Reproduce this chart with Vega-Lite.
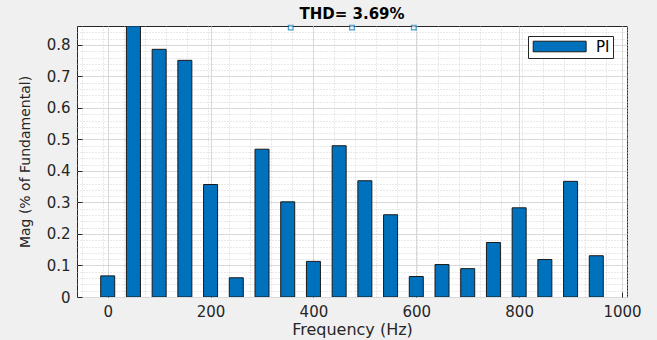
{
  "$schema": "https://vega.github.io/schema/vega-lite/v6.json",
  "width": 550,
  "height": 271,
  "autosize": {"type": "none"},
  "padding": {"left": 77, "top": 26, "right": 30, "bottom": 43},
  "background": "#f0f0f0",
  "config": {
    "view": {"stroke": "#262626", "strokeWidth": 1, "fill": "white"},
    "font": "DejaVu Sans",
    "axis": {"labelFont": "DejaVu Sans", "titleFont": "DejaVu Sans", "labelColor": "#262626", "titleColor": "#262626", "labelFontSize": 15, "titleFontSize": 14, "titleFontWeight": "normal", "domain": false}
  },
  "title": {"text": "THD= 3.69%", "fontSize": 15, "fontWeight": "bold", "color": "#000000", "anchor": "middle", "offset": 1, "font": "DejaVu Sans"},
  "datasets": {
    "harm": [
      {"f": 0, "mag": 0.067, "series": "PI"},
      {"f": 50, "mag": 100, "series": "PI"},
      {"f": 100, "mag": 0.786, "series": "PI"},
      {"f": 150, "mag": 0.751, "series": "PI"},
      {"f": 200, "mag": 0.357, "series": "PI"},
      {"f": 250, "mag": 0.061, "series": "PI"},
      {"f": 300, "mag": 0.469, "series": "PI"},
      {"f": 350, "mag": 0.302, "series": "PI"},
      {"f": 400, "mag": 0.113, "series": "PI"},
      {"f": 450, "mag": 0.48, "series": "PI"},
      {"f": 500, "mag": 0.369, "series": "PI"},
      {"f": 550, "mag": 0.261, "series": "PI"},
      {"f": 600, "mag": 0.065, "series": "PI"},
      {"f": 650, "mag": 0.103, "series": "PI"},
      {"f": 700, "mag": 0.09, "series": "PI"},
      {"f": 750, "mag": 0.173, "series": "PI"},
      {"f": 800, "mag": 0.283, "series": "PI"},
      {"f": 850, "mag": 0.119, "series": "PI"},
      {"f": 900, "mag": 0.367, "series": "PI"},
      {"f": 950, "mag": 0.131, "series": "PI"}
    ],
    "marks": [
      {"f": 358, "mag": 0.855},
      {"f": 475, "mag": 0.855},
      {"f": 593, "mag": 0.855}
    ]
  },
  "layer": [
    {
      "data": {"name": "harm"},
      "mark": {"type": "point", "opacity": 0},
      "encoding": {
        "x": {"field": "f", "type": "quantitative", "scale": {"domain": [-50, 1000], "nice": false, "zero": false},
          "axis": {"orient": "top", "labels": false, "title": null, "grid": true, "gridDash": [1, 2], "gridColor": "#c8c8c8", "gridOpacity": 0.8,
            "values": [-40, 0, 40, 80, 120, 160, 200, 240, 280, 320, 360, 400, 440, 480, 520, 560, 600, 640, 680, 720, 760, 800, 840, 880, 920, 960, 1000], "ticks": false, "maxExtent": 0, "minExtent": 0}},
        "y": {"field": "mag", "type": "quantitative", "scale": {"domain": [0, 0.86], "nice": false, "clamp": true},
          "axis": {"orient": "right", "labels": false, "title": null, "grid": true, "gridDash": [1, 2], "gridColor": "#c8c8c8", "gridOpacity": 0.8,
            "values": [0.02, 0.04, 0.06, 0.08, 0.12, 0.14, 0.16, 0.18, 0.22, 0.24, 0.26, 0.28, 0.32, 0.34, 0.36, 0.38, 0.42, 0.44, 0.46, 0.48, 0.52, 0.54, 0.56, 0.58, 0.62, 0.64, 0.66, 0.68, 0.72, 0.74, 0.76, 0.78, 0.82, 0.84], "ticks": false, "maxExtent": 0, "minExtent": 0}}
      }
    },
    {
      "data": {"name": "harm"},
      "mark": {"type": "bar", "width": 14, "stroke": "#1a1a1a", "strokeWidth": 1, "clip": true},
      "encoding": {
        "x": {"field": "f", "type": "quantitative", "scale": {"domain": [-50, 1000], "nice": false, "zero": false},
          "axis": {"orient": "bottom", "title": "Frequency (Hz)", "titleFontSize": 16, "values": [0, 200, 400, 600, 800, 1000], "format": "d", "grid": true, "gridColor": "#d9d9d9", "tickSize": -5, "tickColor": "#262626", "labelPadding": 12, "titlePadding": 2, "labelOverlap": false}},
        "y": {"field": "mag", "type": "quantitative", "scale": {"domain": [0, 0.86], "nice": false, "clamp": true},
          "axis": {"orient": "left", "title": "Mag (% of Fundamental)", "titleFontSize": 14, "values": [0, 0.1, 0.2, 0.3, 0.4, 0.5, 0.6, 0.7, 0.8], "format": "~g", "grid": true, "gridColor": "#d9d9d9", "tickSize": -5, "tickColor": "#262626", "labelPadding": 12, "titlePadding": 14, "labelOverlap": false}},
        "color": {"field": "series", "type": "nominal", "scale": {"range": ["#0072BD"]},
          "legend": {"title": null, "orient": "none", "legendX": 451, "legendY": 10, "symbolType": "M-1,-1H9V1H-1Z", "symbolSize": 112, "symbolStrokeColor": "#1a1a1a", "symbolStrokeWidth": 1, "labelFontSize": 15, "labelFont": "DejaVu Sans", "labelColor": "#000000", "strokeColor": "#262626", "fillColor": "white", "padding": 3, "labelOffset": 50}}
      }
    },
    {
      "data": {"name": "marks"},
      "mark": {"type": "point", "shape": "square", "size": 22, "filled": false, "stroke": "#0072BD", "strokeWidth": 1.2, "fill": "#e8f0ff", "clip": false},
      "encoding": {
        "x": {"field": "f", "type": "quantitative", "scale": {"domain": [-50, 1000], "nice": false, "zero": false}, "axis": null},
        "y": {"field": "mag", "type": "quantitative", "scale": {"domain": [0, 0.86], "nice": false}, "axis": null}
      }
    }
  ],
  "resolve": {"scale": {"x": "independent", "y": "independent"}, "axis": {"x": "independent", "y": "independent"}}
}
